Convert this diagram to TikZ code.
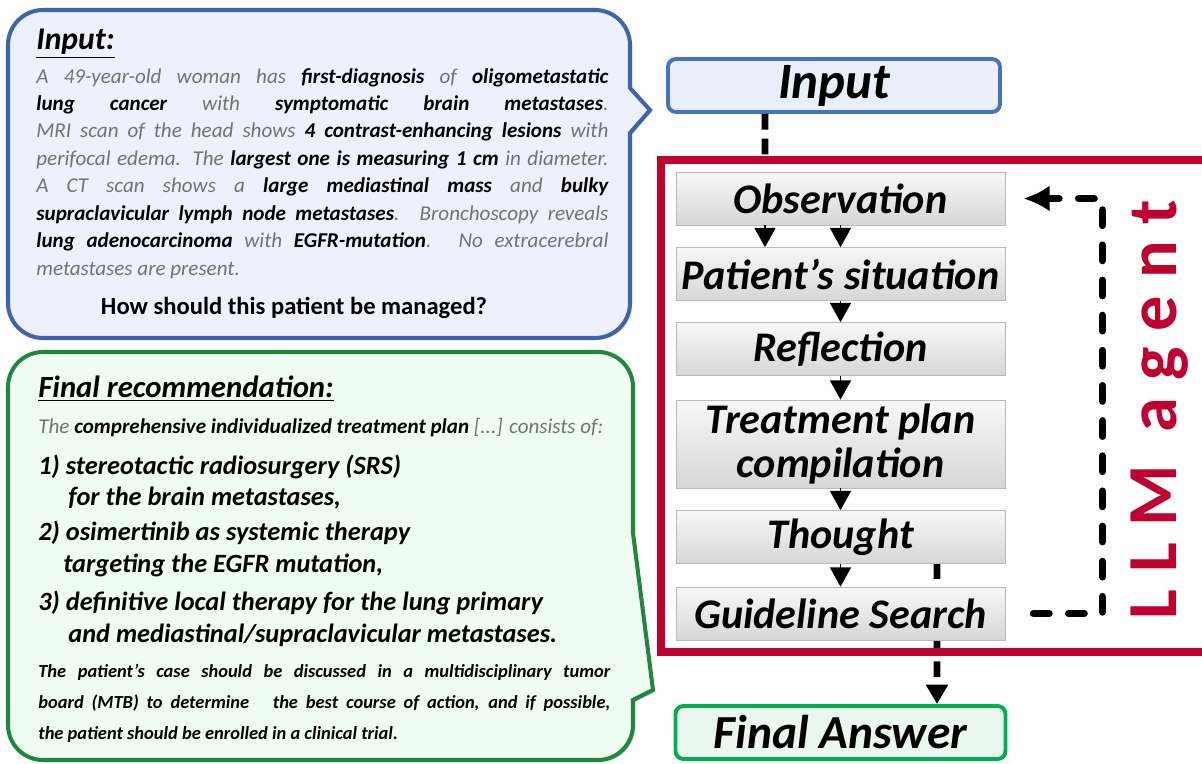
\documentclass[tikz,border=0pt]{standalone}
\usepackage{fontspec}
\setmainfont{Carlito}
\usetikzlibrary{arrows.meta,shadows}

\definecolor{agentred}{HTML}{C0002F}
\definecolor{inblue}{HTML}{4472C4}
\definecolor{infill}{HTML}{E9EEF8}
\definecolor{callblue}{HTML}{3D64AD}
\definecolor{callbluefill}{HTML}{EEF0FC}
\definecolor{callgreen}{HTML}{21873F}
\definecolor{callgreenfill}{HTML}{EFFCF2}
\definecolor{ansgreen}{HTML}{00B050}
\definecolor{ansfill}{HTML}{E9F7EF}

\newcommand{\lite}[1]{{\color{black!55}#1}}
\newcommand{\bd}[1]{\textbf{#1}}

\tikzset{
    stepbox/.style={draw=gray!55, top color=gray!6, bottom color=gray!32, minimum width=6.58cm,
        minimum height=1.06cm, inner sep=0pt, align=center,
        font=\bfseries\itshape\fontsize{24}{25}\selectfont},
    endbox/.style={rounded corners=0.16cm, line width=2.2pt, minimum width=6.6cm,
        minimum height=1.06cm, inner sep=0pt, font=\bfseries\itshape\fontsize{27}{28}\selectfont},
    flowarrow/.style={thick, -{Triangle[width=12pt,length=11pt]}},
    linkdash/.style={line width=3.8pt, dash pattern=on 9pt off 5pt},
    loopdash/.style={line width=4pt, line cap=round, dash pattern=on 9pt off 11pt},
    callout/.style={line width=2.3pt, drop shadow={shadow xshift=0.04cm, shadow yshift=-0.04cm, opacity=0.3}},
    bodytext/.style={inner sep=0pt, anchor=north west, text width=11.44cm, align=justify}
}

\begin{document}
\begin{tikzpicture}
    \useasboundingbox (0,0) rectangle (24.04,15.26);

    % callouts
    \draw[callout, draw=callblue, fill=callbluefill] (12.6,12.6) -- (12.6,9.2)
        arc[start angle=0, end angle=-90, radius=0.7] -- (0.86,8.5)
        arc[start angle=270, end angle=180, radius=0.7] -- (0.16,14.36)
        arc[start angle=180, end angle=90, radius=0.7] -- (11.9,15.06)
        arc[start angle=90, end angle=0, radius=0.7] -- (12.6,13.5) -- (13.0,13.06) -- cycle;
    \draw[callout, draw=callgreen, fill=callgreenfill] (12.66,1.26) -- (12.66,0.76)
        arc[start angle=0, end angle=-90, radius=0.7] -- (0.86,0.06)
        arc[start angle=270, end angle=180, radius=0.7] -- (0.16,7.52)
        arc[start angle=180, end angle=90, radius=0.7] -- (11.96,8.22)
        arc[start angle=90, end angle=0, radius=0.7] -- (12.66,4.6) -- (13.06,1.46) -- cycle;

    \node[anchor=base west, inner sep=0pt, font=\bfseries\itshape\fontsize{18}{20}\selectfont] (inhead) at (0.72,14.26) {\underline{Input:}};
    \node[bodytext, font=\itshape\fontsize{12}{15.6}\selectfont] (intext) at (0.72,13.9) {%
        \lite{A 49-year-old woman has} \bd{first-diagnosis} \lite{of} \bd{oligometastatic}\linebreak
        \bd{lung cancer} \lite{with} \bd{symptomatic brain metastases}\lite{.}\linebreak
        \lite{MRI scan of the head shows} \bd{4 contrast-enhancing lesions} \lite{with}\linebreak
        \lite{perifocal edema. The} \bd{largest one is measuring 1 cm} \lite{in diameter.}\linebreak
        \lite{A CT scan shows a} \bd{large mediastinal mass} \lite{and} \bd{bulky}\linebreak
        \bd{supraclavicular lymph node metastases}\lite{. Bronchoscopy reveals}\linebreak
        \bd{lung adenocarcinoma} \lite{with} \bd{EGFR-mutation}\lite{. No extracerebral}\linebreak
        \lite{metastases are present.}};
    \node[anchor=base, inner sep=0pt, font=\bfseries\fontsize{14}{16}\selectfont] (question) at (5.88,8.96) {How should this patient be managed?};

    \node[anchor=base west, inner sep=0pt, font=\bfseries\itshape\fontsize{17.5}{20}\selectfont] (finhead) at (0.76,7.3) {\underline{Final recommendation:}};
    \node[anchor=base west, inner sep=0pt, font=\itshape\fontsize{12}{14}\selectfont] (finlead) at (0.76,6.6)
        {\lite{The} \bd{comprehensive individualized treatment plan} \lite{[...] consists of:}};
    \node[anchor=base west, inner sep=0pt, align=left, font=\bfseries\itshape\fontsize{15}{18}\selectfont] (finitems) at (0.76,2.42) {%
        1) stereotactic radiosurgery (SRS)\\
        \hspace*{0.6cm}for the brain metastases,\\[2pt]
        2) osimertinib as systemic therapy\\
        \hspace*{0.5cm}targeting the EGFR mutation,\\[3.5pt]
        3) definitive local therapy for the lung primary\\
        \hspace*{0.6cm}and mediastinal/supraclavicular metastases.};
    \node[bodytext, font=\bfseries\itshape\fontsize{10.5}{17.6}\selectfont] (finnote) at (0.76,1.98) {%
        The patient's case should be discussed in a multidisciplinary tumor\linebreak
        board (MTB) to determine \ \ the best course of action, and if possible,\linebreak
        the patient should be enrolled in a clinical trial.};

    % agent loop
    \node[endbox, draw=inblue, fill=infill, minimum width=6.64cm, font=\bfseries\itshape\fontsize{29}{30}\selectfont] (input) at (16.68,13.55) {Input};
    \node[endbox, draw=ansgreen, fill=ansfill] (answer) at (16.81,0.61) {Final Answer};
    \coordinate (agent top) at (15.3,12.06);

    \draw[linkdash] ([xshift=-1.38cm]input.south) -- (agent top);
    \draw[linkdash, -{Triangle[width=12pt,length=11pt]}] (18.74,4.0) -- ([xshift=1.93cm]answer.north);
    \draw[agentred, line width=4.5pt] (13.22,2.22) rectangle (24.4,12.06);

    \node[stepbox] (obs) at (16.81,11.29) {Observation};
    \node[stepbox] (pat) at (16.81,9.78) {Patient's situation};
    \node[stepbox] (refl) at (16.81,8.28) {Reflection};
    \node[stepbox, minimum height=1.76cm] (plan) at (16.81,6.38) {Treatment plan\\compilation};
    \node[stepbox] (thought) at (16.81,4.52) {Thought};
    \node[stepbox] (search) at (16.81,2.99) {Guideline Search};

    \draw[flowarrow] ([xshift=-1.51cm]obs.south) -- ([xshift=-1.51cm]pat.north);
    \draw[flowarrow] (obs) -- (pat);
    \draw[flowarrow] (pat) -- (refl);
    \draw[flowarrow] (refl) -- (plan);
    \draw[flowarrow] (plan) -- (thought);
    \draw[flowarrow] (thought) -- (search);

    \draw[loopdash, shorten <=0.56cm, shorten >=0.36cm, -{Latex[length=15pt,width=15pt]}]
        (search.east) -- ++(1.94,0) |- (obs.east);

    \node[rotate=90, text=agentred, inner sep=0pt, font=\bfseries\fontsize{40}{42}\selectfont\addfontfeature{LetterSpace=24}] (llm) at (23.2,7.06) {LLM agent};
\end{tikzpicture}
\end{document}
